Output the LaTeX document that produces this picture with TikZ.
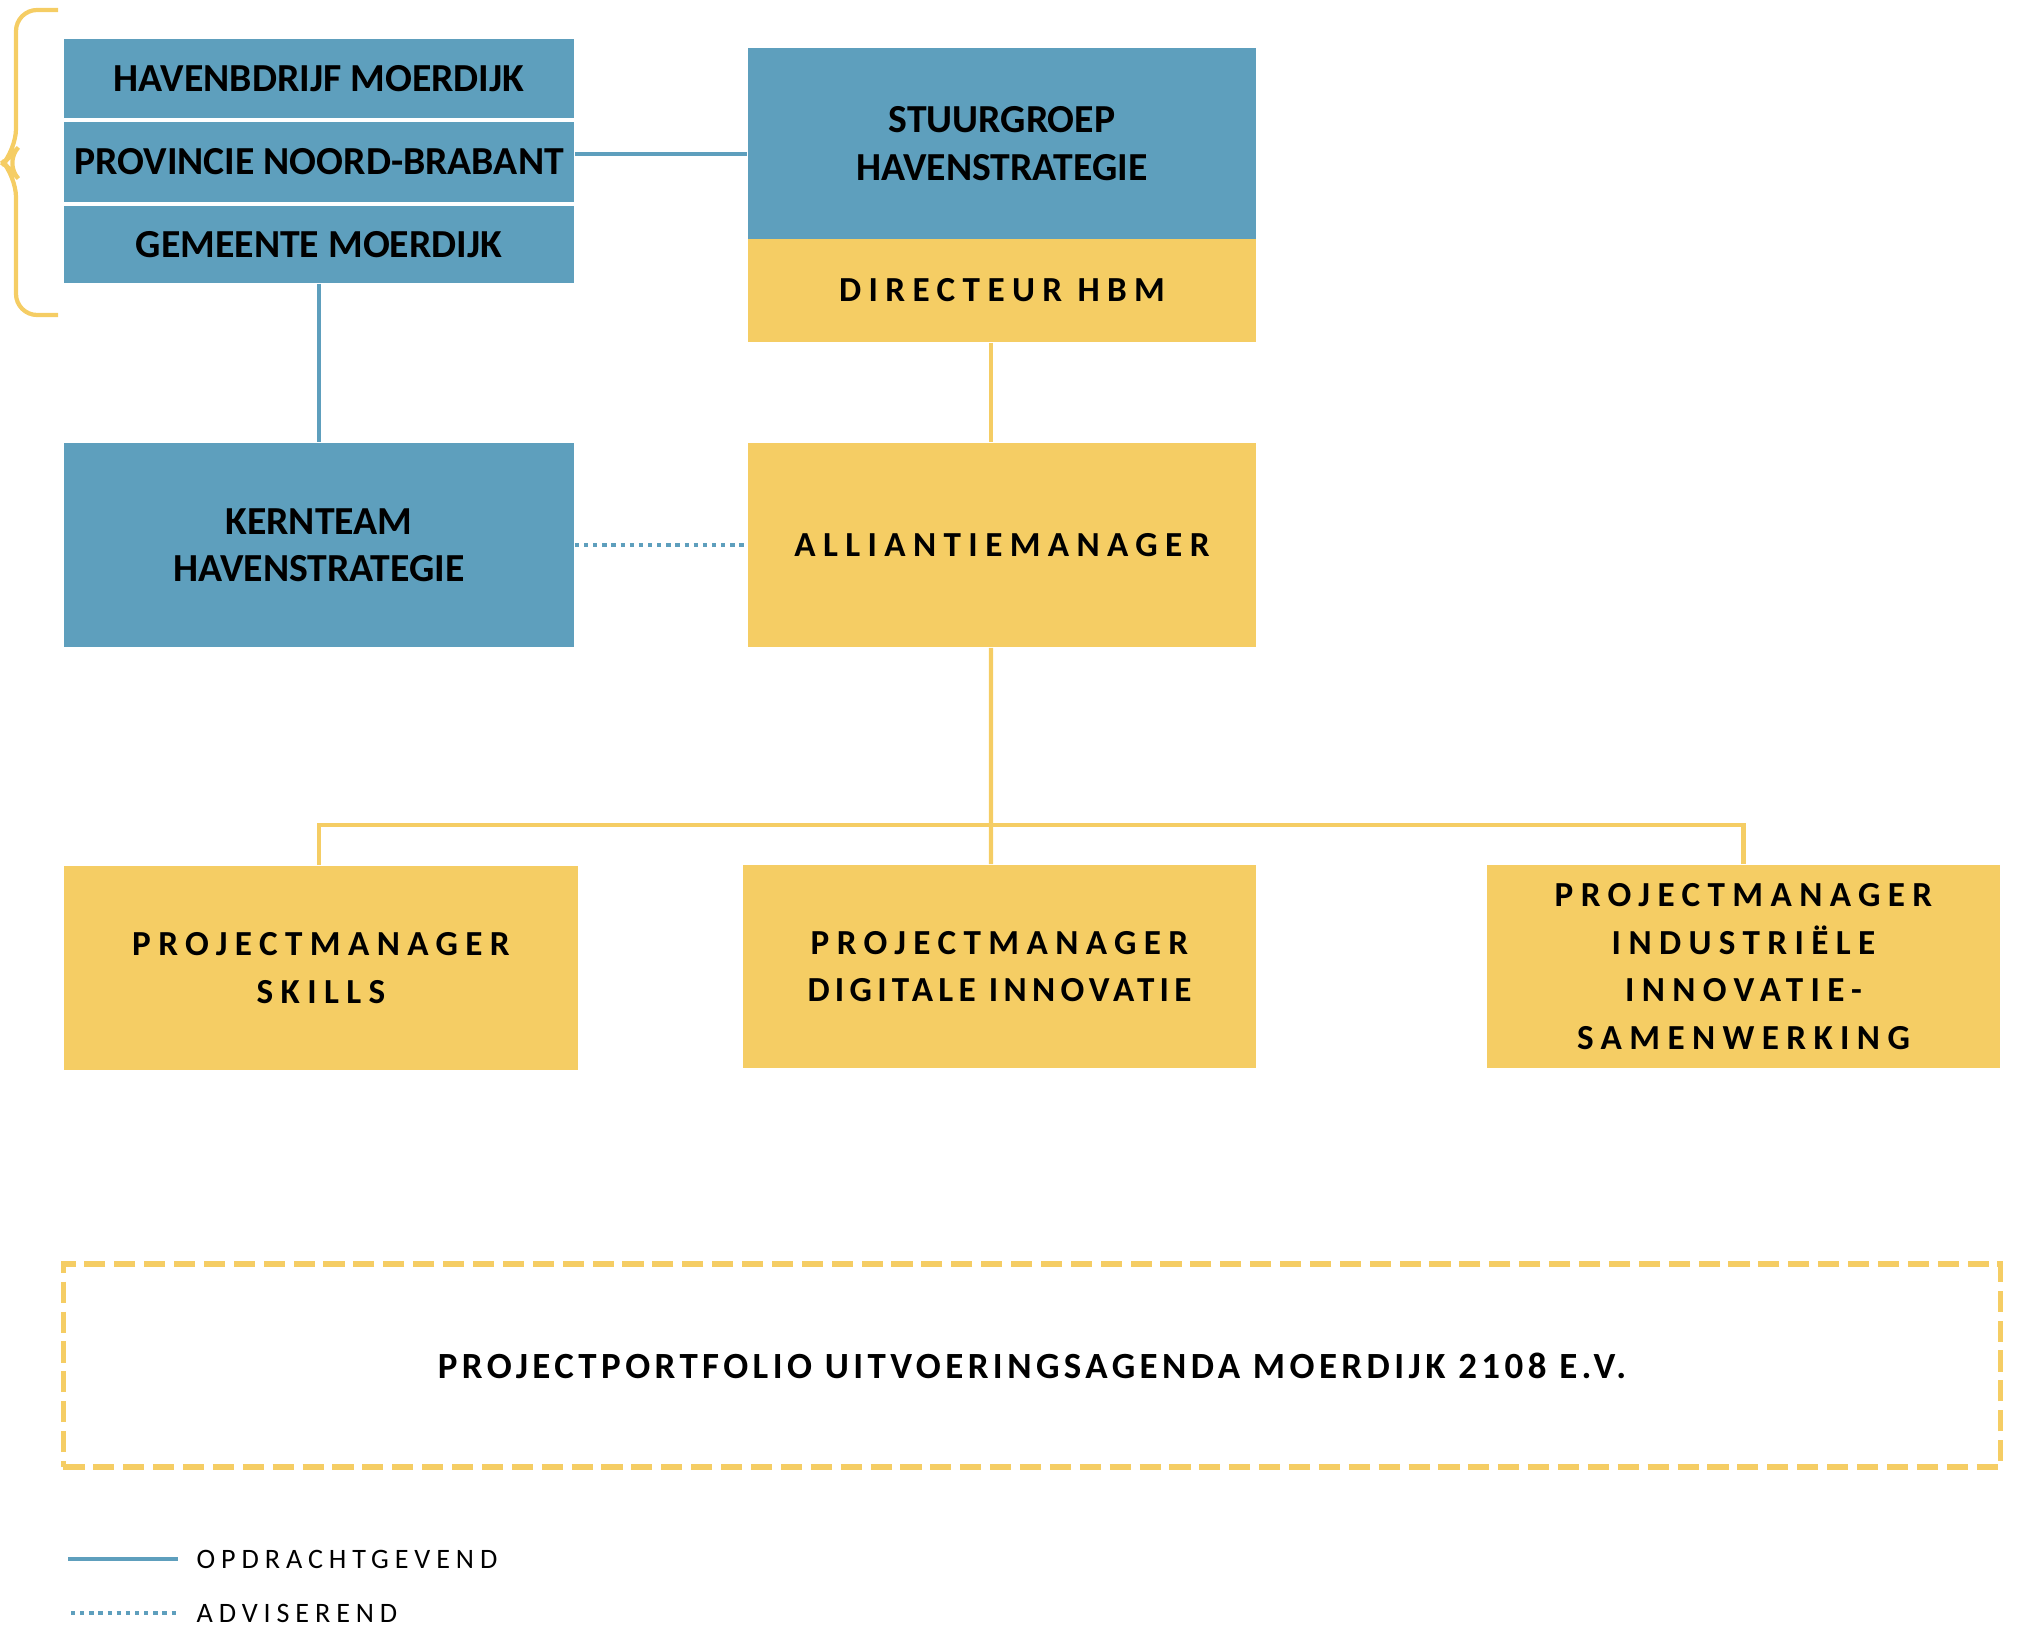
\documentclass[tikz,border=0pt]{standalone}
\usepackage{fontspec}
\setmainfont{Carlito}
\usetikzlibrary{positioning}
\definecolor{havenblauw}{RGB}{94,159,189}
\definecolor{havengeel}{RGB}{245,205,100}
\begin{document}
\begin{tikzpicture}[x=0.01cm,y=-0.01cm]
\tikzset{
blauwvak/.style={fill=havenblauw,inner sep=0pt,minimum width=5.1cm,align=center,font=\bfseries\fontsize{11.3}{13.5}\selectfont},
geelvak/.style={fill=havengeel,inner sep=0pt,minimum width=5.1cm,align=center,font=\bfseries\fontsize{10}{13.5}\selectfont\addfontfeature{LetterSpace=21}},
opdracht/.style={draw=havenblauw,line width=1.2pt},
advies/.style={draw=havenblauw,line width=1.2pt,dash pattern=on 1.2pt off 1.4pt},
geellijn/.style={draw=havengeel,line width=1.2pt},
legenda/.style={anchor=west,inner sep=0pt,font=\fontsize{8}{10}\selectfont\addfontfeature{LetterSpace=21}}
}
\useasboundingbox (0,0) rectangle (2018,1631);
% partners
\node[blauwvak,minimum height=0.79cm] (haven) at (319,78.5) {HAVENBDRIJF MOERDIJK};
\node[blauwvak,minimum height=0.8cm] (provincie) at (319,162) {PROVINCIE NOORD-BRABANT};
\node[blauwvak,minimum height=0.77cm] (gemeente) at (319,244.5) {GEMEENTE MOERDIJK};
\draw[geellijn,rounded corners=6pt] (58,10) -- (16,10) -- (16,150) -- (4,163) -- (16,176) -- (16,315) -- (58,315);
% sturing
\node[blauwvak,minimum width=5.08cm,minimum height=1.91cm] (stuurgroep) at (1002,143.5) {STUURGROEP\\HAVENSTRATEGIE};
\node[geelvak,minimum width=5.08cm,minimum height=1.03cm] (directeur) at (1002,290.5) {DIRECTEUR HBM};
\node[blauwvak,minimum height=2.04cm] (kernteam) at (319,545) {KERNTEAM\\HAVENSTRATEGIE};
\node[geelvak,minimum width=5.08cm,minimum height=2.04cm] (allian) at (1002,545) {ALLIANTIEMANAGER};
% projectmanagers
\node[geelvak,minimum width=5.14cm,minimum height=2.04cm] (pmskills) at (321,968) {PROJECTMANAGER\\SKILLS};
\node[geelvak,minimum width=5.13cm,minimum height=2.03cm] (pmdigi) at (999.5,966.5) {PROJECTMANAGER\\\addfontfeature{LetterSpace=15}DIGITALE INNOVATIE};
\node[geelvak,minimum width=5.13cm,minimum height=2.03cm] (pmindu) at (1743.5,966.5) {PROJECTMANAGER\\INDUSTRIËLE\\INNOVATIE-\\SAMENWERKING};
\node[draw=havengeel,line width=1.6pt,dash pattern=on 6pt off 2.5pt,minimum width=19.36cm,minimum height=2.03cm,inner sep=0pt,font=\bfseries\fontsize{10.5}{13.5}\selectfont\addfontfeature{LetterSpace=12}] (portfolio) at (1032,1365.5) {PROJECTPORTFOLIO UITVOERINGSAGENDA MOERDIJK 2108 E.V.};
% verbindingen
\draw[opdracht] ([yshift=0.08cm]provincie.east) -- ([yshift=0.08cm]stuurgroep.west |- provincie.east);
\draw[opdracht] (gemeente) -- (kernteam);
\draw[advies] (kernteam.east) -- (allian.west);
\draw[geellijn] ([xshift=-0.11cm]directeur.south) -- ([xshift=-0.11cm]allian.north);
\coordinate (splits) at (991,825);
\draw[geellijn] ([xshift=-0.11cm]allian.south) -- (pmdigi.north -| splits);
\draw[geellijn] (pmskills.north -| 319,0) |- (splits) -| (pmindu.north);
% legenda
\coordinate (l1a) at (68,1559);
\coordinate (l1b) at (178,1559);
\coordinate (l2a) at (71,1613);
\coordinate (l2b) at (178,1613);
\draw[opdracht] (l1a) -- (l1b);
\draw[advies] (l2a) -- (l2b);
\node[legenda] (opdr) at (196,1559) {OPDRACHTGEVEND};
\node[legenda] (adv) at (196,1613) {ADVISEREND};
\end{tikzpicture}
\end{document}
